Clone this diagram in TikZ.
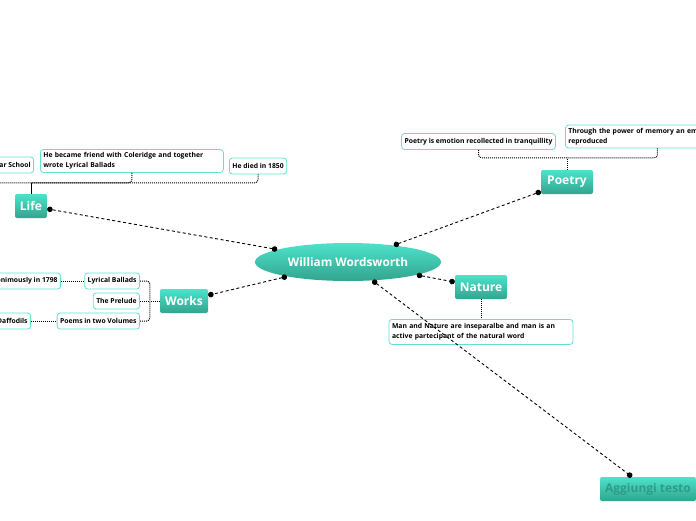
\documentclass[tikz,border=0pt]{standalone}
\usepackage{fontspec}
\setmainfont{Open Sans}
\usetikzlibrary{arrows.meta,positioning,shapes.geometric}
\definecolor{tealtop}{HTML}{4DE2CB}
\definecolor{tealbot}{HTML}{32A48E}
\definecolor{subline}{HTML}{62E2D2}
\definecolor{fadetxt}{HTML}{2E9C87}

\begin{document}
\begin{tikzpicture}[x=1pt,y=-1pt,>=Latex,
  topic/.style={rounded corners=2pt,top color=tealtop,bottom color=tealbot,draw=none,
    text=white,font=\bfseries\fontsize{12}{14}\selectfont,minimum height=24pt,inner sep=3pt},
  leaf/.style={draw=subline,fill=white,rounded corners=3pt,line width=0.8pt,
    font=\bfseries\fontsize{6.8}{10}\selectfont,align=left,inner sep=3pt,minimum height=16pt},
  link/.style={dashed,dash pattern=on 3pt off 2.5pt,line width=0.9pt,{Circle[length=5.5pt]}-{Circle[length=5.5pt]}},
  sub/.style={densely dotted,line width=1pt,rounded corners=3pt}]
\useasboundingbox (0,0) rectangle (696,520);

% central topic
\node[ellipse,top color=tealtop,bottom color=tealbot,minimum width=186pt,minimum height=38pt,
  text=white,font=\bfseries\fontsize{11.8}{14}\selectfont] (main) at (348,262) {William Wordsworth};

% main topics
\node[topic,minimum width=32pt] (life) at (31,206) {Life};
\node[topic,minimum width=52pt] (poetry) at (567,182) {Poetry};
\node[topic,minimum width=48pt] (works) at (184,301) {Works};
\node[topic,minimum width=52pt] (nature) at (481,287) {Nature};
\node[topic,minimum width=96pt,text=fadetxt] (aggiungi) at (648,489) {Aggiungi testo};

% Life
\node[leaf,anchor=east] (school) at (34,165) {Hawkshead Grammar School};
\node[leaf,anchor=west,text width=177pt] (cole) at (40,161) {He became friend with Coleridge and together\\wrote Lyrical Ballads};
\node[leaf,anchor=west] (died) at (229,166) {He died in 1850};
\draw[line width=1pt] (life.north) -- ++(0,-11) coordinate (lifej);
\draw[sub] (school.south) |- (lifej);
\draw[sub] (cole.south) |- (lifej);
\draw[sub] (died.south) |- (lifej);

% Poetry
\node[leaf] (tranq) at (478.5,141.5) {Poetry is emotion recollected in tranquillity};
\node[leaf,anchor=west,text width=178pt] (memory) at (565,136.5) {Through the power of memory an emotion is\\reproduced};
\draw[sub] (poetry.north) -- ++(0,-12) coordinate (poetj);
\draw[sub] (tranq.south) |- (poetj);
\draw[sub] (memory.south) |- (poetj);

% Works
\node[leaf,anchor=east] (ballads) at (140,281) {Lyrical Ballads};
\node[leaf,anchor=east] (prelude) at (140,301) {The Prelude};
\node[leaf,anchor=east] (poems) at (140,321) {Poems in two Volumes};
\node[leaf,anchor=east] (anon) at (61,281) {Published anonimously in  1798};
\node[leaf,anchor=east] (daff) at (31,321) {Daffodils};
\draw[sub] (works.west) -- ++(-10,0) coordinate (workj);
\draw[sub] (ballads.east) -| (workj);
\draw[sub] (prelude.east) -- (workj);
\draw[sub] (poems.east) -| (workj);
\draw[sub] (anon.east) -- (ballads.west);
\draw[sub] (daff.east) -- (poems.west);

% Nature
\node[leaf,anchor=north,text width=178pt,minimum height=25pt] (man) at (481,319) {Man and Nature are inseparalbe and man is an\\active partecipant of the natural word};
\draw[sub] (nature.south) -- (man.north);

% links from the centre
\draw[link] (main) -- (life);
\draw[link] (main) -- (poetry);
\draw[link] (main) -- (works);
\draw[link] (main) -- (nature);
\draw[link] (main) -- (aggiungi);
\end{tikzpicture}
\end{document}
